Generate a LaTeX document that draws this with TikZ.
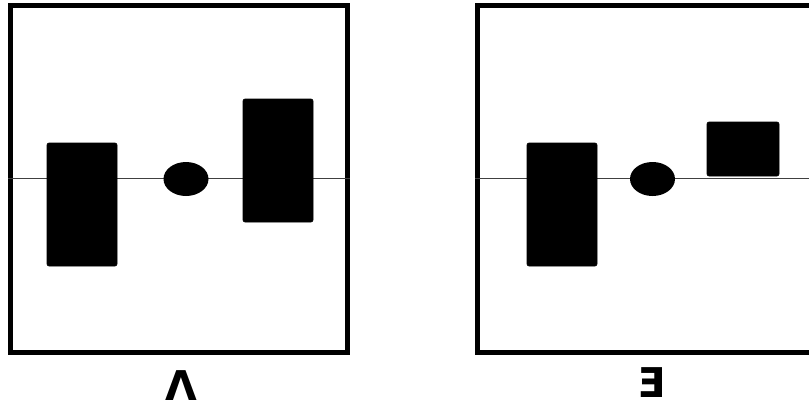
\documentclass[tikz,border=0pt]{standalone}
\usepackage{fontspec}
\newfontfamily\labelfont{DejaVu Sans}
\usepackage{tikz}
\usetikzlibrary{shapes.geometric}

\tikzset{
  panel/.style={draw, line width=5pt, inner sep=0pt, minimum width=337pt, minimum height=346.5pt},
  block/.style={fill=black, draw=black, line width=0.6pt, rounded corners=2pt, inner sep=0pt},
  knob/.style={ellipse, fill=black, inner sep=0pt, minimum width=45pt, minimum height=34pt},
  axis/.style={line width=1.4pt, black!75},
  tag/.style={font=\labelfont\bfseries\fontsize{41}{41}\selectfont, inner sep=0pt}
}

\begin{document}
\begin{tikzpicture}[x=1pt,y=1pt]
                \useasboundingbox (0,0) rectangle (809,-407);
                \clip (0,0) rectangle (809,-407);

                % left panel
                \node[panel] (panelA) at (179,-178.75) {};
                \draw[axis] (panelA.west) -- (panelA.east);
                \node[block, minimum width=70pt, minimum height=123pt] (tallA) at (82,-204.5) {};
                \node[knob] (knobA) at (186,-179) {};
                \node[block, minimum width=70pt, minimum height=123pt] (highA) at (278,-160.5) {};
                \node[tag] (capA) at (181,-385.5) {Λ};

                % right panel
                \node[panel] (panelB) at (646,-178.75) {};
                \draw[axis] (panelB.west) -- (panelB.east);
                \node[block, minimum width=70pt, minimum height=123pt] (tallB) at (562,-204.5) {};
                \node[knob] (knobB) at (652.5,-179) {};
                \node[block, minimum width=72pt, minimum height=54pt] (boxB) at (743,-149) {};
                \node[tag] (capB) at (651.5,-382.5) {Ǝ};
            \end{tikzpicture}
\end{document}
